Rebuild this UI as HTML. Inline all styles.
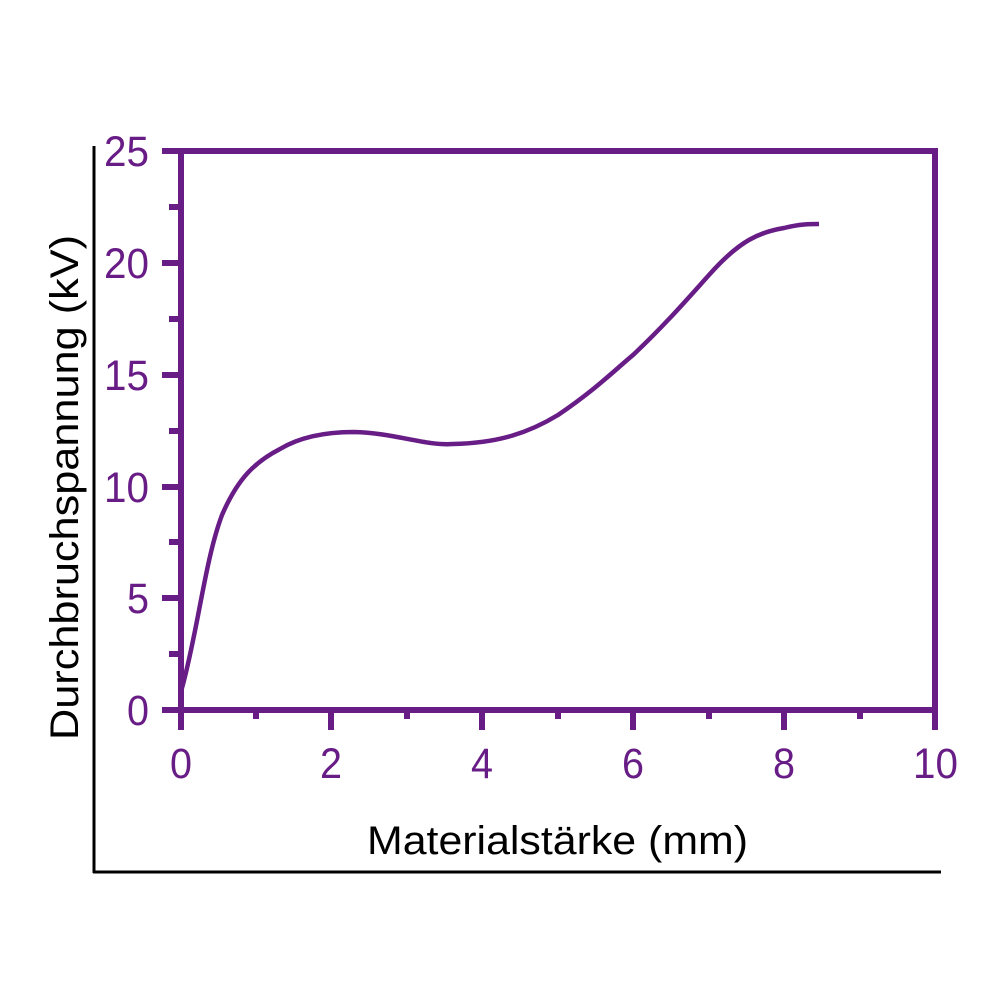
<!DOCTYPE html>
<html><head><meta charset="utf-8"><style>
html,body{margin:0;padding:0;background:#fff;}
svg{display:block;}
text{font-family:"Liberation Sans",sans-serif;}
</style></head><body>
<svg width="1000" height="1000" viewBox="0 0 1000 1000">
<g stroke="#000" stroke-width="3" fill="none">
<line x1="94" y1="146" x2="94" y2="873"/>
<line x1="93" y1="872" x2="941" y2="872"/>
</g>
<g stroke="#681c86" stroke-width="6" fill="none">
<rect x="181" y="151" width="754" height="559"/>
<line x1="162" y1="151" x2="181" y2="151"/>
<line x1="162" y1="263" x2="181" y2="263"/>
<line x1="162" y1="375" x2="181" y2="375"/>
<line x1="162" y1="487" x2="181" y2="487"/>
<line x1="162" y1="598" x2="181" y2="598"/>
<line x1="162" y1="710" x2="181" y2="710"/>
<line x1="169" y1="207" x2="181" y2="207"/>
<line x1="169" y1="319" x2="181" y2="319"/>
<line x1="169" y1="431" x2="181" y2="431"/>
<line x1="169" y1="542" x2="181" y2="542"/>
<line x1="169" y1="654" x2="181" y2="654"/>
<line x1="181" y1="710" x2="181" y2="730"/>
<line x1="331" y1="710" x2="331" y2="730"/>
<line x1="482" y1="710" x2="482" y2="730"/>
<line x1="633" y1="710" x2="633" y2="730"/>
<line x1="784" y1="710" x2="784" y2="730"/>
<line x1="935" y1="710" x2="935" y2="730"/>
<line x1="256" y1="710" x2="256" y2="719"/>
<line x1="407" y1="710" x2="407" y2="719"/>
<line x1="558" y1="710" x2="558" y2="719"/>
<line x1="709" y1="710" x2="709" y2="719"/>
<line x1="860" y1="710" x2="860" y2="719"/>
</g>
<path d="M182,688 C198,630 205,560 222,515 C238,478 255,462 280,449 C300,437 325,432 354,432 C395,433 425,446 453,444 C500,443 530,432 558,415 C595,390 615,370 633,355 C665,325 690,296 709,275 C740,240 760,232 784,228 C800,224 810,224 819,224" fill="none" stroke="#681c86" stroke-width="4.5"/>
<g fill="#681c86" font-size="43" text-anchor="end">
<text x="149" y="166" textLength="45" lengthAdjust="spacingAndGlyphs">25</text>
<text x="149" y="278" textLength="45" lengthAdjust="spacingAndGlyphs">20</text>
<text x="149" y="390" textLength="45" lengthAdjust="spacingAndGlyphs">15</text>
<text x="149" y="502" textLength="45" lengthAdjust="spacingAndGlyphs">10</text>
<text x="149" y="613" textLength="22" lengthAdjust="spacingAndGlyphs">5</text>
<text x="149" y="725" textLength="22" lengthAdjust="spacingAndGlyphs">0</text>
</g>
<g fill="#681c86" font-size="43">
<text x="170" y="778" textLength="22" lengthAdjust="spacingAndGlyphs">0</text>
<text x="320" y="778" textLength="22" lengthAdjust="spacingAndGlyphs">2</text>
<text x="471" y="778" textLength="22" lengthAdjust="spacingAndGlyphs">4</text>
<text x="622" y="778" textLength="22" lengthAdjust="spacingAndGlyphs">6</text>
<text x="773" y="778" textLength="22" lengthAdjust="spacingAndGlyphs">8</text>
<text x="913" y="778" textLength="45" lengthAdjust="spacingAndGlyphs">10</text>
</g>
<text x="367" y="854" font-size="40" textLength="381" lengthAdjust="spacingAndGlyphs" fill="#000">Materialstärke (mm)</text>
<text transform="translate(78,740) rotate(-90)" font-size="40" textLength="505" lengthAdjust="spacingAndGlyphs" fill="#000">Durchbruchspannung (kV)</text>
</svg>
</body></html>
